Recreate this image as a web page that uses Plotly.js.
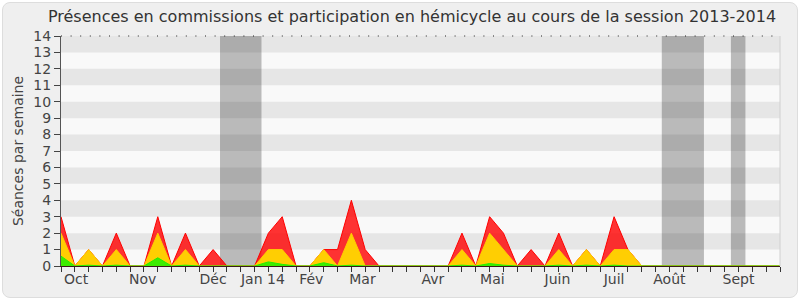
<!DOCTYPE html>
<html>
<head>
<meta charset="utf-8">
<script src="https://cdn.plot.ly/plotly-3.0.1.min.js"></script>
<style>
  html, body { margin: 0; padding: 0; background: #ffffff; }
  #frame { position: absolute; left: 2px; top: 2px; width: 794px; height: 294px;
           background: #efefef; border: 1px solid #dddddd; border-radius: 8px; }
  #chart { position: absolute; left: 0; top: 0; width: 800px; height: 300px; }
</style>
</head>
<body>
<div id="frame"></div>
<div id="chart"></div>
<script>
// Week index of the 2013-2014 session (one point per week)
const weeks = [0,1,2,3,4,5,6,7,8,9,10,11,12,13,14,15,16,17,18,19,20,21,22,23,24,25,26,
               27,28,29,30,31,32,33,34,35,36,37,38,39,40,41,42,43,44,45,46,47,48,49,50,51,52];
// Total sessions per week (red area top)
const commission = [3,0,1,0,2,0,0,3,0,2,0,1,0,0,0,2,3,0,0,1,1,4,1,0,0,0,0,
                    0,0,2,0,3,2,0,1,0,2,0,1,0,3,1,0,0,0,0,0,0,0,0,0,0,0];
// Presence in hemicycle (yellow area top)
const hemicycle = [2,0,1,0,1,0,0,2,0,1,0,0,0,0,0,1,1,0,0,1,0,2,0,0,0,0,0,
                   0,0,1,0,2,1,0,0,0,1,0,1,0,1,1,0,0,0,0,0,0,0,0,0,0,0];
// Interventions (green area top)
const interventions = [0.6,0,0.05,0,0.05,0,0,0.5,0,0.05,0,0,0,0,0,0.25,0.1,0,0,0.2,0,0.05,0,0,0,0,0,
                       0,0,0.05,0,0.15,0.05,0,0,0,0.05,0,0.05,0,0.05,0,0,0,0,0,0,0,0,0,0,0,0];
// Month labels and their week positions
const monthLabels = ["Oct","Nov","Déc","Jan 14","Fév","Mar","Avr","Mai","Juin","Juil","Août","Sept"];
const monthPos = [1.1,5.9,11.0,14.6,18.1,21.8,26.9,31.2,35.9,40.0,44.0,49.0];
// Holiday periods (week ranges)
const holidays = [[11.5,14.5],[43.45,46.5],[48.45,49.5]];

const traces = [
  {x: weeks, y: commission, type: 'scatter', mode: 'lines', fill: 'tozeroy',
   line: {color: '#ff0000', width: 1}, fillcolor: 'rgba(255,0,0,0.8)', hoverinfo: 'skip'},
  {x: weeks, y: hemicycle, type: 'scatter', mode: 'lines', fill: 'tozeroy',
   line: {color: '#ffcc00', width: 1}, fillcolor: 'rgba(255,215,0,0.95)', hoverinfo: 'skip'},
  {x: weeks, y: interventions, type: 'scatter', mode: 'lines', fill: 'tozeroy',
   line: {color: '#22ee00', width: 1}, fillcolor: 'rgba(40,240,0,0.9)', hoverinfo: 'skip'},
  {x: weeks, y: weeks.map(() => null), xaxis: 'x2', type: 'scatter', mode: 'lines', hoverinfo: 'skip', showlegend: false}
];

const shapes = [];
for (let k = 1; k < 14; k += 2) {
  shapes.push({type: 'rect', xref: 'paper', yref: 'y', x0: 0, x1: 1, y0: k, y1: k + 1,
               fillcolor: '#e6e6e6', line: {width: 0}, layer: 'below'});
}
holidays.forEach(h => shapes.push({type: 'rect', xref: 'x', yref: 'paper', x0: h[0], x1: h[1], y0: 0, y1: 1,
               fillcolor: 'rgba(0,0,0,0.25)', line: {width: 0}, layer: 'below'}));
// dotted top border
shapes.push({type: 'line', xref: 'paper', yref: 'paper', x0: 0, x1: 1, y0: 1, y1: 1,
             line: {color: '#222222', width: 1, dash: '1px,8.6px'}, layer: 'above'});
// light right border
shapes.push({type: 'line', xref: 'paper', yref: 'paper', x0: 1, x1: 1, y0: 0, y1: 1,
             line: {color: '#d0d0d0', width: 1}, layer: 'above'});

const font = 'DejaVu Sans, Verdana, sans-serif';
const layout = {
  width: 800, height: 300,
  margin: {l: 61, r: 20, t: 36, b: 34},
  paper_bgcolor: 'rgba(0,0,0,0)', plot_bgcolor: '#f9f9f9',
  showlegend: false,
  title: {text: 'Présences en commissions et participation en hémicycle au cours de la session 2013-2014',
          font: {family: font, size: 16, color: '#333333'}, x: 0.515, xanchor: 'center', y: 0.945, yanchor: 'middle'},
  xaxis: {range: [0, 52], tickvals: monthPos, ticktext: monthLabels, ticks: '', showgrid: false,
          zeroline: false, showline: true, linecolor: '#3a1a1a', linewidth: 1,
          tickfont: {family: font, size: 14, color: '#444444'}, fixedrange: true},
  xaxis2: {range: [0, 52], overlaying: 'x', side: 'bottom', anchor: 'y', dtick: 1, tick0: 0,
           ticks: 'outside', ticklen: 5, tickcolor: '#333333', showticklabels: false,
           showgrid: false, zeroline: false, showline: false},
  yaxis: {range: [0, 14], dtick: 1, tick0: 0, ticks: 'outside', ticklen: 6, tickcolor: '#444444',
          showgrid: false, zeroline: false, showline: true, linecolor: '#555555', mirror: false,
          tickfont: {family: font, size: 14, color: '#444444'},
          title: {text: 'Séances par semaine', font: {family: font, size: 14, color: '#444444'}, standoff: 6},
          fixedrange: true},
  shapes: shapes
};

Plotly.newPlot('chart', traces, layout, {displayModeBar: false, staticPlot: true});
</script>
</body>
</html>
